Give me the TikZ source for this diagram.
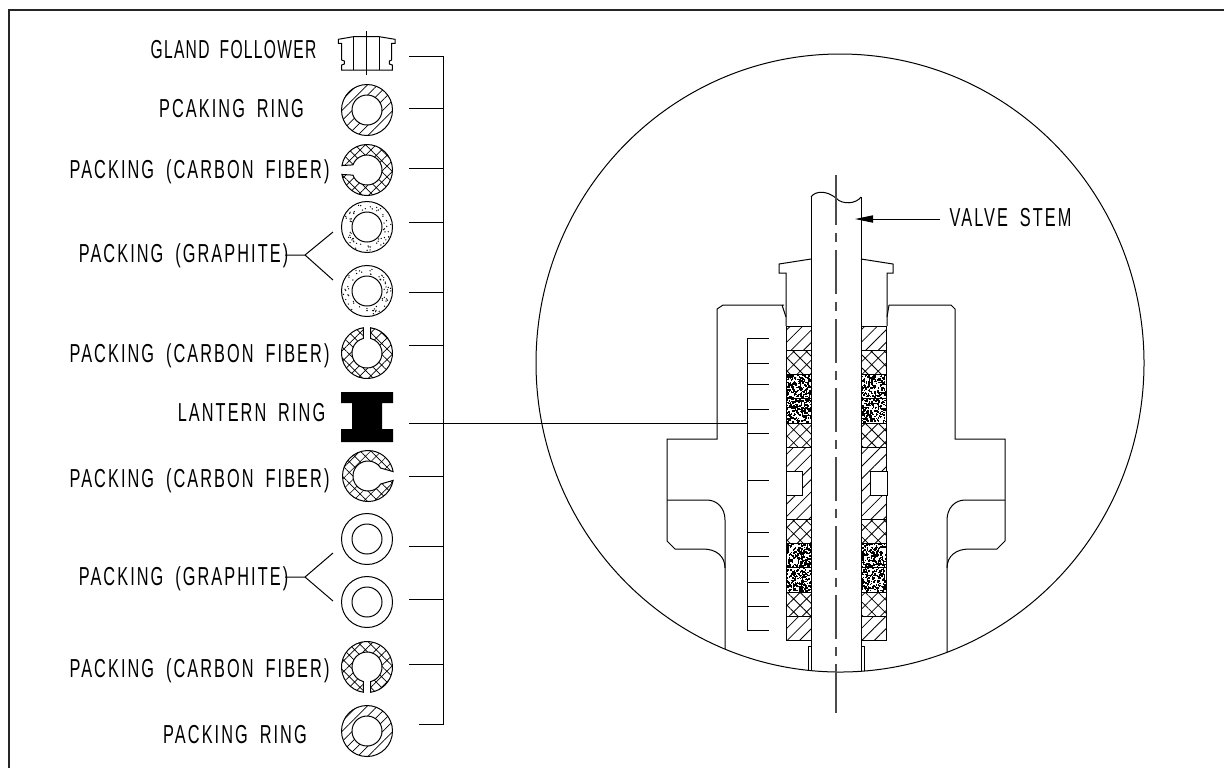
\documentclass[tikz,border=0pt]{standalone}
\usepackage{fontspec}
\usepackage{tikz}
\usetikzlibrary{arrows.meta,calc,patterns.meta}
\newfontfamily\labelfont[FakeStretch=0.627,LetterSpace=8,WordSpace=1.8]{Liberation Sans}
\newfontfamily\glandfont[FakeStretch=0.6,LetterSpace=5,WordSpace=1.8]{Liberation Sans}
\tikzset{
  part/.style={line width=0.5pt,black},
  label/.style={font=\labelfont\fontsize{13}{15}\selectfont,inner sep=0pt,anchor=base},
  hatchring/.style={part,even odd rule,pattern={Lines[angle=45,distance=3.6pt,line width=0.35pt]}},
  crossring/.style={part,pattern={Hatch[angle=45,distance=3.8pt,line width=0.35pt]}},
  hatchsec/.style={part,pattern={Lines[angle=45,distance=4.4pt,line width=0.4pt]}},
  crosssec/.style={part,pattern={Hatch[angle=45,distance=4.6pt,line width=0.4pt]}},
  centerline/.style={line width=0.7pt,black!70,dash pattern=on 21.75pt off 4pt on 4.5pt off 4.25pt}
}
\newcommand{\fullring}[3]{\draw[#3] (#1,#2) circle (25.5) (#1,#2) circle (15);}
\newcommand{\splitring}[6]{%
  \draw[#6] ($(#1,#2)+(#3+#4:25.5)$) arc[start angle=#3+#4,end angle=#3+360-#4,radius=25.5]
    -- ($(#1,#2)+(#3-#5:15)$) arc[start angle=#3-#5,end angle=#3-360+#5,radius=15] -- cycle;}
\newcommand{\speckring}[2]{%
  \foreach \n in {1,...,60}{
    \pgfmathsetmacro{\ang}{360*rnd}
    \pgfmathsetmacro{\rad}{16.5+7.5*rnd}
    \fill (#1,#2) ++(\ang:\rad) circle (0.7);
  }}
\newcommand{\stippleblock}[2]{%
  \foreach \n in {1,...,190}{
    \pgfmathsetmacro{\px}{#1+24*rnd}
    \pgfmathsetmacro{\py}{#2+23*rnd}
    \fill (\px,\py) rectangle ++(1.5,1.5);
  }}
\pgfmathsetseed{42}
\begin{document}
\begin{tikzpicture}[x=0.5pt,y=-0.5pt]
\useasboundingbox (0,0) rectangle (1224,768);
\coordinate (fa) at (1224,10);
\coordinate (fb) at (9,10);
\coordinate (fc) at (9,768);
\draw[line width=0.8pt,black!85] (fa) -- (fb) -- (fc);

\node[label,font=\glandfont\fontsize{13}{15}\selectfont] (lgland) at (233.5,58) {GLAND FOLLOWER};
\node[label] (lpcak) at (231.5,117) {PCAKING RING};
\node[label] (lcf1) at (199.5,178) {PACKING (CARBON FIBER)};
\node[label] (lgr1) at (183.5,262) {PACKING (GRAPHITE)};
\node[label] (lcf2) at (199.5,362) {PACKING (CARBON FIBER)};
\node[label] (llant) at (251.5,421) {LANTERN RING};
\node[label] (lcf3) at (199.5,487) {PACKING (CARBON FIBER)};
\node[label] (lgr2) at (183.5,585) {PACKING (GRAPHITE)};
\node[label] (lcf4) at (199.5,677) {PACKING (CARBON FIBER)};
\node[label] (lring) at (235,743) {PACKING RING};
\node[label] (lstem) at (1010.5,226) {VALVE STEM};

\draw[part] (338.3,39.3) -- (353.3,36.7) -- (379.3,36.7) -- (395,39.3) -- (395,43.3) -- (391.7,43.3)
  -- (391.7,60) -- (389.3,61) -- (389.3,64) -- (392.3,65) -- (392.3,70) -- (341.7,70) -- (341.7,65)
  -- (344.3,64) -- (344.3,61) -- (341.7,60) -- (341.7,43.3) -- (338.3,43.3) -- cycle;
\draw[part] (353.3,36.7) -- (353.3,70) (379.3,36.7) -- (379.3,70) (366.7,31) -- (366.7,75);

\fullring{367}{110}{hatchring}
\splitring{367}{170}{180}{10}{20}{crossring}
\fullring{367}{227}{part}
\speckring{367}{227}
\fullring{367}{291}{part}
\speckring{367}{291}
\splitring{367}{353}{270}{8}{14}{crossring}
\fill (341,392) -- (393,392) -- (393,403) -- (382,403) -- (382,429) -- (393,429) -- (393,442)
  -- (341,442) -- (341,429) -- (352,429) -- (352,403) -- (341,403) -- cycle;
\splitring{368}{476}{0}{10}{32}{crossring}
\fullring{367}{539}{part}
\fullring{367}{602}{part}
\splitring{367}{667}{90}{8}{14}{crossring}
\fullring{367}{731}{hatchring}

\coordinate (ja) at (305,255);
\coordinate (jb) at (305,577);
\draw[part] (285,255) -- (ja) -- (333,232);
\draw[part] (ja) -- (333,280);
\draw[part] (285,577) -- (jb) -- (333,553);
\draw[part] (jb) -- (333,601);

\coordinate (bustop) at (443,56);
\coordinate (busend) at (443,724);
\draw[part] (409,56) -- (bustop) -- (busend) -- (419,724);
\foreach \y in {108,168,222,292,345,476,546,599,664}{
  \draw[part] (409,\y) -- (443,\y);
}

\coordinate (sub) at (747,423);
\draw[part] (409,423) -- (sub);
\draw[part] (769,338) -- (747,338) -- (747,630) -- (769,630);
\foreach \y in {363,384,409,433,480,532,556,582,606}{
  \draw[part] (747,\y) -- (769,\y);
}

\draw[part] (840,363) ellipse (304 and 309);

\foreach \x in {786,861}{
  \foreach \ya/\yb/\sty in {326/350/hatchsec,350/374/crosssec,423/447/crosssec,447/519/hatchsec,
                            519/543/crosssec,592/616/crosssec,616/640/hatchsec}{
    \draw[\sty] (\x,\ya) rectangle (\x+25.5,\yb);
  }
  \foreach \ya in {374,398.5,543,567.5}{
    \stippleblock{\x}{\ya}
    \draw[part] (\x,\ya) rectangle (\x+25.5,\ya+24.5);
  }
}
\draw[part,fill=white] (786,471) rectangle (802,495);
\draw[part,fill=white] (870,471) rectangle (887,495);

\draw[part] (811,197) .. controls (815,191) and (826,190) .. (836,198)
  .. controls (842,205) and (856,204) .. (861,197);
\draw[part] (811,197) -- (811,670);
\draw[part] (861,197) -- (861,671);
\draw[centerline] (836,181) -- (836,664);
\draw[line width=0.7pt,black!70] (836,175) -- (836,181) (836,664) -- (836,713);

\draw[part] (786,326) -- (786,273) -- (779,273) -- (779,264) -- (811,259);
\draw[part] (887,326) -- (887,273) -- (893,273) -- (893,264) -- (861,259);

\draw[part] (784,305) -- (723,305) -- (717,309) -- (717,439) -- (667,439) -- (667,541) -- (675,549)
  -- (703,549) .. controls (716,549) and (725,556) .. (725,568);
\draw[part] (667,500) -- (707,500) .. controls (717,500) and (725,508) .. (725,520) -- (725,649);
\draw[part] (782,305) -- (786,317);
\draw[part] (889,305) -- (951,305) -- (955,309) -- (955,439) -- (1005,439) -- (1005,541) -- (997,549)
  -- (969,549) .. controls (956,549) and (947,556) .. (947,568);
\draw[part] (1005,500) -- (965,500) .. controls (955,500) and (947,508) .. (947,520) -- (947,652);
\draw[part] (889,305) -- (887,317);

\draw[part] (811,646) -- (808,646) -- (808,671);
\draw[part] (861,646) -- (864,646) -- (864,671);

\coordinate (stemfrom) at (940,219);
\coordinate (stemtip) at (855,219);
\draw[part,-{Triangle[length=9pt,width=3.6pt]}] (stemfrom) -- (stemtip);
\end{tikzpicture}
\end{document}
